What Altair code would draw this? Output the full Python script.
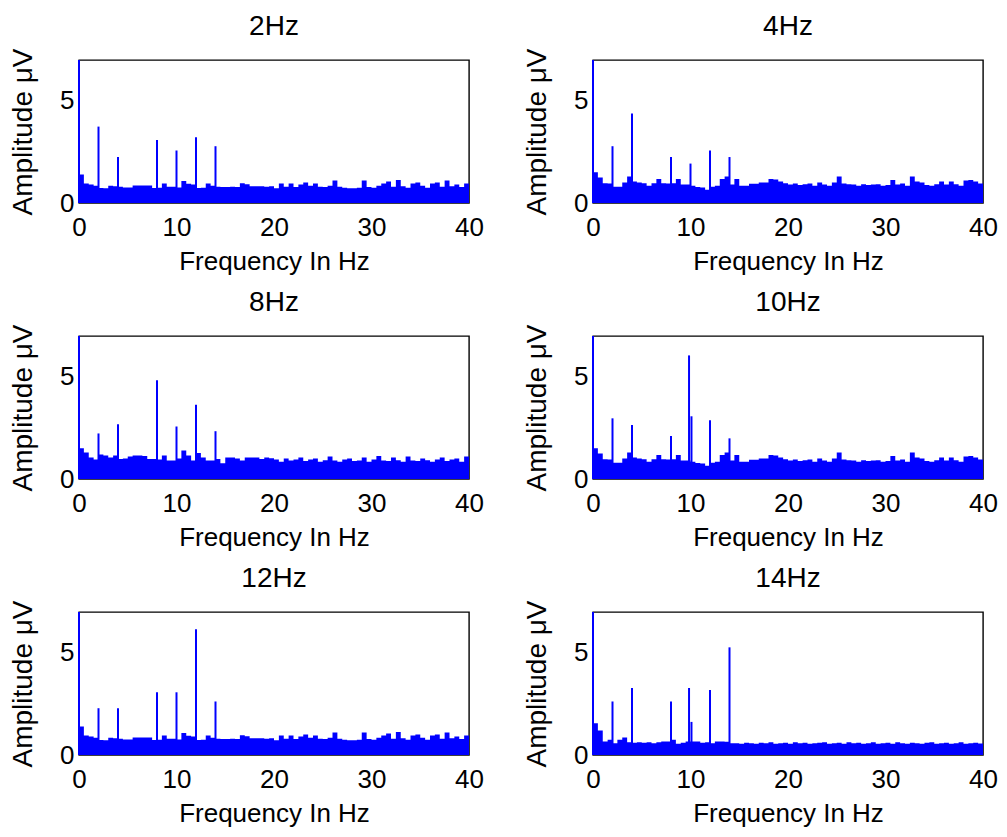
import altair as alt
import pandas as pd

BLUE = "#0000ff"
FONT = "Liberation Sans"

FREQ = [i * 0.5 for i in range(81)]

PANEL_TITLES = ["2Hz", "4Hz", "8Hz", "10Hz", "12Hz", "14Hz"]

# Noise-floor envelope (μV) read at 0.5 Hz steps, 0..40 Hz
noise_a = [1.4, 0.95, 0.9, 0.85, 0.73, 0.72, 0.85, 0.82, 0.8, 0.76,
           0.76, 0.86, 0.86, 0.86, 0.86, 0.73, 0.75, 0.95, 0.8, 0.8,
           0.76, 1.08, 0.94, 0.9, 0.73, 0.75, 0.95, 0.85, 0.8, 0.78,
           0.78, 0.8, 0.78, 0.97, 0.92, 0.82, 0.82, 0.82, 0.8, 0.82,
           0.72, 0.95, 0.8, 0.95, 0.78, 0.9, 1.0, 0.85, 0.95, 0.8,
           0.78, 0.85, 1.1, 0.8, 0.75, 0.72, 0.72, 0.75, 1.1, 0.78,
           0.75, 0.85, 0.95, 1.05, 0.8, 1.12, 0.82, 0.75, 0.95, 1.0,
           0.85, 0.75, 0.95, 1.0, 0.8, 1.1, 0.82, 0.9, 0.78, 0.95, 0.95]

noise_b = [1.5, 1.25, 0.97, 0.95, 0.8, 0.8, 1.0, 1.3, 1.05, 1.0,
           0.97, 0.85, 0.97, 1.17, 0.97, 0.95, 0.97, 1.17, 0.9, 0.9,
           0.85, 0.78, 0.76, 0.65, 0.8, 0.85, 1.18, 1.3, 0.9, 1.17,
           0.85, 0.85, 0.94, 0.94, 1.0, 1.0, 1.18, 1.15, 1.05, 0.97,
           0.9, 0.95, 0.88, 0.92, 0.95, 0.85, 1.0, 0.9, 0.85, 1.0,
           1.3, 0.95, 0.92, 0.9, 0.85, 0.92, 0.88, 0.9, 0.92, 0.85,
           0.88, 1.13, 0.9, 0.95, 0.85, 1.3, 1.05, 1.0, 0.88, 0.85,
           0.92, 1.05, 0.9, 1.05, 0.92, 0.85, 1.1, 1.13, 1.05, 0.95, 0.95]

noise_c = [1.5, 1.3, 1.05, 0.95, 1.2, 1.15, 1.05, 1.15, 0.98, 1.0,
           1.1, 1.15, 1.15, 1.12, 0.98, 0.98, 0.95, 1.15, 0.9, 0.9,
           1.0, 1.4, 1.15, 0.9, 1.27, 1.05, 0.9, 0.9, 0.98, 0.77,
           1.05, 1.05, 1.0, 0.9, 1.05, 1.05, 1.05, 0.98, 1.05, 1.02,
           0.95, 0.85, 1.0, 0.9, 0.95, 1.05, 0.88, 0.95, 1.0, 0.85,
           0.92, 1.1, 0.9, 0.85, 0.95, 1.0, 0.88, 0.9, 1.05, 0.85,
           0.95, 1.12, 0.9, 0.88, 1.05, 0.92, 0.85, 1.1, 0.9, 0.88,
           1.0, 0.92, 0.85, 0.95, 1.05, 0.88, 0.95, 1.0, 0.85, 1.1, 1.1]

noise_d = [1.55, 1.2, 0.66, 0.75, 0.58, 0.75, 0.86, 0.62, 0.6, 0.62,
           0.6, 0.62, 0.58, 0.62, 0.66, 0.66, 0.75, 0.55, 0.6, 0.66,
           0.66, 0.66, 0.6, 0.62, 0.58, 0.66, 0.66, 0.65, 0.58, 0.58,
           0.55, 0.6, 0.58, 0.55, 0.6, 0.58, 0.62, 0.55, 0.58, 0.6,
           0.55, 0.62, 0.58, 0.6, 0.55, 0.58, 0.6, 0.62, 0.55, 0.58,
           0.6, 0.55, 0.62, 0.58, 0.6, 0.55, 0.58, 0.62, 0.55, 0.58,
           0.6, 0.55, 0.62, 0.58, 0.55, 0.6, 0.58, 0.55, 0.6, 0.62,
           0.55, 0.58, 0.6, 0.55, 0.58, 0.62, 0.55, 0.58, 0.6, 0.56, 0.56]

NOISE = [noise_a, noise_b, noise_c, noise_b, noise_a, noise_d]

# Spectral peaks (Hz, μV); the 0 Hz component runs off the top of the axes
spike_f = [
    [0, 2, 4, 8, 10, 12, 14],
    [0, 2, 4, 8, 10, 12, 14],
    [0, 2, 4, 8, 10, 12, 14],
    [0, 2, 4, 8, 9.85, 10.1, 12, 14],
    [0, 2, 4, 8, 10, 12, 14],
    [0, 2, 4, 8, 9.85, 10.1, 12, 14],
]
spike_v = [
    [7, 3.74, 2.25, 3.09, 2.57, 3.22, 2.78],
    [7, 2.78, 4.38, 2.25, 1.93, 2.57, 2.25],
    [7, 2.23, 2.68, 4.83, 2.57, 3.64, 2.34],
    [7, 2.97, 2.64, 2.1, 6.05, 3.07, 2.87, 1.99],
    [7, 2.29, 2.29, 3.07, 3.07, 6.15, 2.62],
    [7, 2.62, 3.28, 2.62, 3.28, 1.62, 3.18, 5.27],
]

X_TICKS = [0, 10, 20, 30, 40]
Y_TICKS = [0, 5]


def panel(i):
    df_n = pd.DataFrame({"f": FREQ, "v": NOISE[i]})
    df_s = pd.DataFrame({"f": spike_f[i], "v": spike_v[i]})
    x = alt.X("f:Q", scale=alt.Scale(domain=[0, 40], nice=False, zero=False),
              axis=alt.Axis(values=X_TICKS, title="Frequency In Hz", labelFlush=False))
    y = alt.Y("v:Q", scale=alt.Scale(domain=[0, 7], nice=False),
              axis=alt.Axis(values=Y_TICKS, title="Amplitude μV"))
    area = alt.Chart(df_n).mark_area(interpolate="step-after", color=BLUE, opacity=1).encode(x=x, y=y)
    rules = alt.Chart(df_s).mark_rule(color=BLUE, strokeWidth=2).encode(
        x=alt.X("f:Q"), y=alt.Y("v:Q"), y2=alt.datum(0))
    ttl = alt.TitleParams(text=PANEL_TITLES[i], offset=7)
    return alt.layer(area, rules, title=ttl).properties(width=390, height=143)


rows = [alt.hconcat(panel(2 * r), panel(2 * r + 1), spacing=37) for r in range(3)]
chart = alt.vconcat(*rows, spacing=13).configure_view(
    stroke="#000000", strokeWidth=1.4
).configure_axis(
    labelFont=FONT, titleFont=FONT, labelFontSize=26, titleFontSize=28,
    titleFontWeight="normal", labelColor="#000000", titleColor="#000000",
    grid=False, ticks=False, domain=False,
).configure_axisX(labelPadding=11, titlePadding=8, titleFontSize=26
).configure_axisY(labelPadding=5, titlePadding=22, titleFontSize=28).configure_title(
    font=FONT, fontSize=28, fontWeight="normal", color="#000000"
).properties(background="white", padding={"left": 0, "top": 4, "right": 0, "bottom": 0})

chart.save("out.html", embed_options={"renderer": "svg", "actions": False})
